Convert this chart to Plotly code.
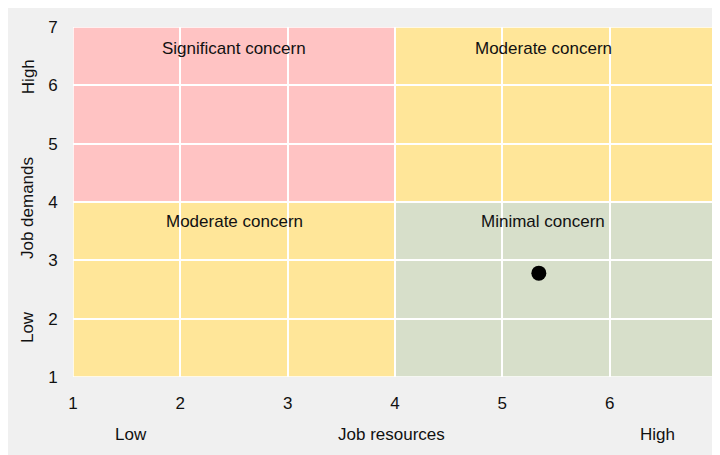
import plotly.graph_objects as go

# Data
quadrant_labels = ["Significant concern", "Moderate concern", "Moderate concern", "Minimal concern"]
quadrant_x0 = [1, 4, 1, 4]
quadrant_x1 = [4, 7, 4, 7]
quadrant_y0 = [4, 4, 1, 1]
quadrant_y1 = [7, 7, 4, 4]
quadrant_colors = ["#ffc3c3", "#ffe699", "#ffe699", "#d7dfca"]
label_x = [2.5, 5.38, 2.5, 5.38]
label_shift = [-10, -10, -8, -8]

point_x = [5.34]
point_y = [2.78]

ticks = [1, 2, 3, 4, 5, 6, 7]

FONT = "Liberation Sans, Arial, sans-serif"
FS = 17

fig = go.Figure()

for x0, x1, y0, y1, c in zip(quadrant_x0, quadrant_x1, quadrant_y0, quadrant_y1, quadrant_colors):
    fig.add_shape(type="rect", xref="x", yref="y", x0=x0, x1=x1, y0=y0, y1=y1,
                  fillcolor=c, line=dict(color="white", width=1.5), layer="below")

for lbl, lx, y1, sh in zip(quadrant_labels, label_x, quadrant_y1, label_shift):
    fig.add_annotation(x=lx, y=y1, xref="x", yref="y", text=lbl, showarrow=False,
                       yanchor="top", yshift=sh, font=dict(size=FS, color="#111", family=FONT))

fig.add_trace(go.Scatter(x=point_x, y=point_y, mode="markers",
                         marker=dict(size=15, color="black"), hoverinfo="skip", showlegend=False))

# axis titles
def ann(text, x, y, angle=0):
    fig.add_annotation(x=x, y=y, xref="paper", yref="paper", text=text, showarrow=False,
                       textangle=angle, xanchor="center", yanchor="middle",
                       font=dict(size=FS, color="#111", family=FONT))

ann("Job resources", 0.495, -0.163)
ann("Low", 0.0898, -0.163)
ann("High", 0.907, -0.163)
ann("Job demands", -0.0697, 0.483, -90)
ann("High", -0.0697, 0.857, -90)
ann("Low", -0.0697, 0.143, -90)

fig.update_xaxes(range=[1, 7], tickvals=ticks, showgrid=True, gridcolor="white", gridwidth=2,
                 zeroline=False, showline=False, ticks="outside", ticklen=11,
                 tickcolor="rgba(0,0,0,0)", tickfont=dict(size=FS, color="#111", family=FONT),
                 fixedrange=True)
fig.update_yaxes(range=[1, 7], tickvals=ticks, showgrid=True, gridcolor="white", gridwidth=2,
                 zeroline=False, showline=False, ticks="outside", ticklen=11,
                 tickcolor="rgba(0,0,0,0)", tickfont=dict(size=FS, color="#111", family=FONT),
                 fixedrange=True)

fig.update_layout(width=720, height=455, autosize=False,
                  margin=dict(l=65, r=6, t=19, b=86),
                  paper_bgcolor="#f0f0f0", plot_bgcolor="rgba(0,0,0,0)",
                  showlegend=False, font=dict(family=FONT))

fig.write_html("out.html")
